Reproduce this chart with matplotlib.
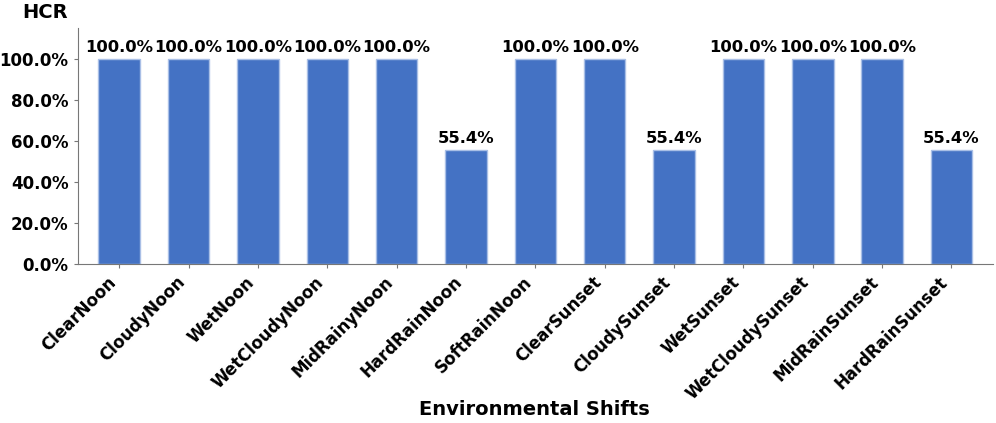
import numpy as np
import matplotlib
matplotlib.use('Agg')
import matplotlib.pyplot as plt
from matplotlib.ticker import PercentFormatter

shifts = ['ClearNoon', 'CloudyNoon', 'WetNoon', 'WetCloudyNoon', 'MidRainyNoon',
          'HardRainNoon', 'SoftRainNoon', 'ClearSunset', 'CloudySunset', 'WetSunset',
          'WetCloudySunset', 'MidRainSunset', 'HardRainSunset']
hcr = [100.0, 100.0, 100.0, 100.0, 100.0, 55.4, 100.0, 100.0, 55.4, 100.0, 100.0, 100.0, 55.4]

fig = plt.figure(figsize=(9.96, 4.23), dpi=100)
ax = fig.add_axes([0.078, 0.376, 0.919, 0.558])

x = np.arange(len(shifts))
bars = ax.bar(x, hcr, width=0.6, color='#4472C4', edgecolor='#A9BFE6', linewidth=1)

for b, v in zip(bars, hcr):
    ax.text(b.get_x() + b.get_width()/2, v + 2, f'{v:.1f}%', ha='center', va='bottom',
            fontsize=11.8, fontweight='bold')

ax.set_xlim(-0.6, len(shifts) - 0.4)
ax.set_ylim(0, 115)
ax.set_yticks(np.arange(0, 101, 20))
ax.yaxis.set_major_formatter(PercentFormatter(decimals=1))
ax.set_xticks(x)
ax.set_xticklabels(shifts, rotation=45, ha='right')
for lab in ax.get_xticklabels():
    lab.set_fontsize(12)
    lab.set_fontweight('bold')
for lab in ax.get_yticklabels():
    lab.set_fontsize(12)
    lab.set_fontweight('bold')

ax.spines['top'].set_visible(False)
ax.spines['right'].set_visible(False)
for s in ['left', 'bottom']:
    ax.spines[s].set_color('#777777')
ax.tick_params(colors='#777777', labelcolor='black', length=3)

fig.text(0.537, 0.033, 'Environmental Shifts', ha='center', va='center',
         fontsize=14, fontweight='bold')
fig.text(0.045, 0.97, 'HCR', ha='center', va='center', fontsize=14, fontweight='bold')

fig.savefig('out.png', dpi=100)
